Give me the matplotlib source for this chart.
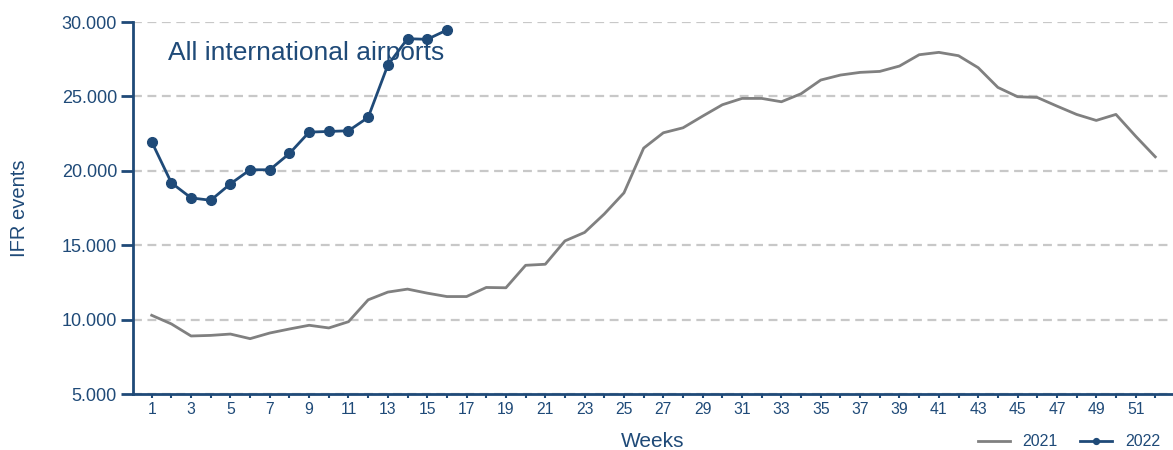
import matplotlib.pyplot as plt
from matplotlib.ticker import FuncFormatter, MultipleLocator

plt.rcParams['font.family'] = ['Liberation Sans', 'DejaVu Sans']

navy = '#1f4a78'
grey = '#808080'

weeks_2021 = list(range(1, 53))
ifr_2021 = [10290, 9710, 8900, 8940, 9030, 8720, 9100, 9370, 9620, 9440,
            9860, 11330, 11850, 12050, 11780, 11550, 11550, 12160, 12140, 13650,
            13720, 15290, 15860, 17100, 18520, 21525, 22556, 22890, 23677, 24440,
            24865, 24865, 24640, 25180, 26100, 26435, 26615, 26680, 27040, 27800,
            27960, 27735, 26930, 25605, 24980, 24930, 24350, 23790, 23385, 23790,
            22330, 20940]

weeks_2022 = list(range(1, 17))
ifr_2022 = [21950, 19190, 18180, 18020, 19125, 20070, 20070, 21165, 22600, 22645,
            22690, 23590, 27105, 28880, 28835, 29460]

fig = plt.figure(figsize=(11.73, 4.5), dpi=100)
ax = fig.add_axes([0.1134, 0.1244, 0.8866, 0.8267])

ax.plot(weeks_2021, ifr_2021, color=grey, lw=2, label='2021', zorder=3)
ax.plot(weeks_2022, ifr_2022, color=navy, lw=2, marker='o', ms=7, label='2022', zorder=4)

ax.set_xlim(0.05, 52.9)
ax.set_ylim(5000, 30000)
ax.yaxis.set_major_locator(MultipleLocator(5000))
ax.yaxis.set_major_formatter(FuncFormatter(lambda v, p: f'{int(v):,}'.replace(',', '.')))
ax.set_xticks(range(1, 53, 2))
ax.xaxis.set_minor_locator(MultipleLocator(1))

ax.grid(axis='y', color='#c8c8c8', ls=(0, (4, 2.5)), lw=1.6)
ax.set_axisbelow(True)
for s in ['top', 'right']:
    ax.spines[s].set_visible(False)
for s in ['left', 'bottom']:
    ax.spines[s].set_color(navy)
    ax.spines[s].set_linewidth(2)

ax.tick_params(axis='y', colors=navy, labelsize=13, length=8.5, width=2, pad=3)
ax.tick_params(axis='x', which='both', colors=navy, labelsize=11.3, length=3, width=1.5, pad=2.5)

ax.set_ylabel('IFR events', color=navy, fontsize=14.5, va='center')
ax.yaxis.set_label_coords(-0.1087, 0.5)
ax.set_xlabel('Weeks', color=navy, fontsize=15, va='center')
ax.xaxis.set_label_coords(0.5, -0.128)

ax.text(0.0337, 0.898, 'All international airports', transform=ax.transAxes,
        color=navy, fontsize=19, va='baseline', zorder=2)

ax.legend(loc='center right', bbox_to_anchor=(1160 / 1173, 1 - 441.7 / 450),
          bbox_transform=fig.transFigure, ncol=2, frameon=False,
          fontsize=11.5, labelcolor=navy, handlelength=2, handletextpad=0.8,
          columnspacing=1.4, borderpad=0, borderaxespad=0, markerscale=0.6)

fig.savefig('out.png', dpi=100)
